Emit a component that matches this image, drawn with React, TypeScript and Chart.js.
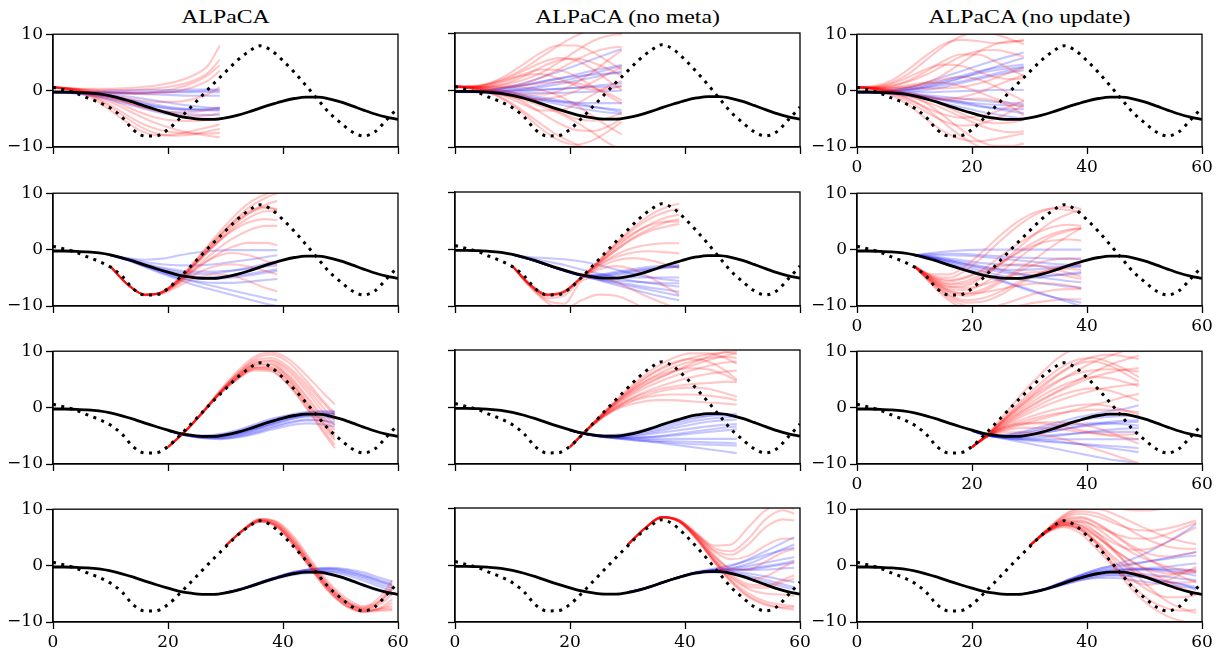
import React, { useEffect, useRef } from "react";
import { Chart, registerables } from "chart.js";
Chart.register(...registerables);

// ---------- data ----------
const X_GRID = [0, 2, 4, 6, 8, 10, 12, 14, 16, 18, 20, 22, 24, 26, 28, 30, 32, 34, 36, 38, 40, 42, 44, 46, 48, 50, 52, 54, 56, 58, 60];
const TRUE_SOLID = [-0.25, -0.25, -0.3, -0.4, -0.6, -0.95, -1.45, -2.05, -2.75, -3.4, -4.0, -4.55, -4.9, -5.1, -5.1, -4.85, -4.4, -3.8, -3.1, -2.45, -1.85, -1.4, -1.15, -1.15, -1.45, -2.0, -2.7, -3.45, -4.15, -4.7, -5.1];
const TRUE_DOTTED = [0.6, 0.1, -0.45, -1.3, -2.1, -3.1, -4.7, -7.0, -8.05, -8.0, -6.9, -5.0, -2.9, -0.8, 1.3, 3.3, 5.3, 6.9, 7.95, 7.1, 5.3, 3.2, 0.9, -1.5, -3.9, -5.7, -7.3, -8.05, -7.3, -5.2, -3.0];
const X_TICKS = [0, 20, 40, 60];
const Y_TICKS = [-10, 0, 10];
const TITLES = ["ALPaCA", "ALPaCA (no meta)", "ALPaCA (no update)"];
const ROW_STARTS = [0, 10, 20, 30];
const SAMPLE_OFFSETS = [0, 3, 6, 9, 12, 15, 18, 21, 24, 27, 29];

// Row 1
const RED_A1 = [
  [0.6, 0.4, 0.3, 0.3, 0.4, 0.6, 0.9, 1.5, 2.5, 4.5, 8.0],
  [0.6, 0.4, 0.2, 0.1, 0.1, 0.2, 0.4, 0.8, 1.6, 3.2, 5.5],
  [0.6, 0.3, 0.0, -0.3, -0.5, -0.6, -0.5, -0.2, 0.5, 1.8, 3.5],
  [0.6, 0.3, -0.1, -0.6, -1.2, -1.7, -2.0, -2.0, -1.6, -0.6, 0.6],
  [0.6, 0.2, -0.4, -1.3, -2.5, -3.8, -4.8, -5.3, -5.4, -5.2, -4.8],
  [0.6, 0.2, -0.6, -2.0, -3.8, -5.6, -6.8, -7.4, -7.6, -7.6, -7.5],
  [0.6, 0.1, -0.9, -2.8, -5.0, -7.0, -7.9, -7.8, -7.2, -6.5, -6.0],
  [0.6, 0.2, -0.5, -1.6, -3.0, -4.5, -5.8, -6.8, -7.5, -8.0, -8.3],
  [0.6, 0.3, -0.2, -0.9, -1.8, -2.7, -3.4, -3.8, -3.8, -3.4, -3.0],
  [0.6, 0.2, -0.7, -2.3, -4.3, -6.3, -7.6, -8.0, -7.8, -7.2, -6.8],
  [0.6, 0.4, 0.1, -0.2, -0.4, -0.4, -0.2, 0.3, 1.2, 2.8, 4.5],
  [0.6, 0.3, -0.3, -1.0, -1.9, -2.8, -3.6, -4.2, -4.5, -4.4, -4.0],
];
const BLUE_A1 = [
  [-0.3, -0.3, -0.3, -0.3, -0.3, -0.3, -0.3, -0.3, -0.3, -0.3, -0.3],
  [-0.3, -0.3, -0.2, -0.1, 0, 0.1, 0.1, 0.1, 0.2, 0.2, 0.2],
  [-0.3, -0.35, -0.5, -0.8, -1.3, -1.9, -2.5, -3.0, -3.3, -3.4, -3.4],
  [-0.3, -0.35, -0.6, -1.0, -1.6, -2.3, -2.9, -3.3, -3.5, -3.5, -3.5],
  [-0.3, -0.4, -0.7, -1.2, -1.9, -2.7, -3.4, -3.9, -4.2, -4.3, -4.3],
  [-0.3, -0.3, -0.4, -0.6, -0.9, -1.3, -1.8, -2.3, -2.7, -3.0, -3.1],
  [-0.3, -0.3, -0.3, -0.4, -0.5, -0.6, -0.7, -0.8, -0.9, -0.9, -0.9],
  [-0.3, -0.4, -0.8, -1.4, -2.2, -3.0, -3.8, -4.4, -4.8, -5.0, -5.0],
  [-0.3, -0.3, -0.3, -0.35, -0.4, -0.4, -0.3, -0.2, -0.1, 0, 0],
  [-0.3, -0.35, -0.5, -0.9, -1.4, -2.1, -2.8, -3.2, -3.3, -3.2, -3.1],
];
const RED_M1 = [
  [0.6, 0.7, 1.2, 2.2, 3.8, 5.8, 7.8, 9.5, 10.5, 10.5, 10],
  [0.6, 0.5, 0.6, 1.2, 2.4, 4.0, 5.2, 5.5, 4.8, 3.5, 2.5],
  [0.6, 0.3, -0.3, -1.0, -1.8, -2.8, -4.0, -5.6, -7.5, -9.5, -10.5],
  [0.6, 0.4, 0.0, -0.8, -2.2, -4.0, -5.8, -7.0, -7.2, -6.2, -5.0],
  [0.6, 0.5, 0.8, 1.6, 2.8, 3.6, 3.5, 2.4, 0.6, -1.2, -2.4],
  [0.6, 0.3, -0.4, -1.8, -3.8, -6.0, -8.0, -9.5, -10.5, -11, -11],
  [0.6, 0.6, 1.0, 1.8, 2.6, 2.8, 2.0, 0.8, 0.0, 0.2, 0.8],
  [0.6, 0.4, 0.1, -0.4, -0.8, -0.8, -0.2, 1.2, 3.2, 5.5, 7.0],
  [0.6, 0.5, 0.6, 1.0, 1.8, 3.0, 4.8, 6.8, 8.6, 9.6, 9.8],
  [0.6, 0.3, -0.2, -1.2, -2.6, -3.6, -3.6, -2.5, -0.8, 0.8, 1.6],
  [0.6, 0.4, 0.2, -0.2, -1.0, -2.2, -3.8, -5.0, -5.4, -4.8, -4.0],
  [0.6, 0.6, 1.2, 2.6, 4.6, 6.6, 7.8, 7.8, 6.6, 4.8, 3.6],
  [0.6, 0.3, -0.5, -2.0, -4.2, -6.8, -8.8, -9.6, -8.8, -7.0, -5.6],
  [0.6, 0.5, 0.5, 0.6, 0.8, 1.2, 1.4, 1.2, 0.4, -0.8, -1.8],
  [0.6, 0.5, 0.4, 0.6, 1.2, 2.2, 3.6, 5.2, 6.6, 7.4, 7.6],
  [0.6, 0.3, -0.2, -0.8, -1.4, -1.6, -1.2, -0.2, 1.4, 3.0, 4.0],
  [0.6, 0.4, 0.3, 0.4, 0.4, 0.0, -1.0, -2.6, -4.6, -6.6, -7.8],
  [0.6, 0.6, 1.0, 2.0, 3.4, 4.8, 5.6, 5.2, 3.6, 1.4, 0.0],
];
const BLUE_M1 = [
  [-0.3, -0.2, 0, 0.5, 1.2, 2.2, 3.2, 4.3, 5.4, 6.5, 7.2],
  [-0.3, -0.2, 0, 0.3, 0.8, 1.4, 2.0, 2.7, 3.4, 4.0, 4.4],
  [-0.3, -0.3, -0.3, -0.2, 0.1, 0.5, 1.0, 1.6, 2.2, 2.9, 3.3],
  [-0.3, -0.3, -0.4, -0.6, -0.9, -1.3, -1.8, -2.3, -2.9, -3.5, -3.9],
  [-0.3, -0.3, -0.4, -0.7, -1.1, -1.6, -2.1, -2.6, -3.0, -3.3, -3.5],
  [-0.3, -0.3, -0.3, -0.3, -0.2, 0, 0.2, 0.4, 0.5, 0.6, 0.6],
  [-0.3, -0.3, -0.3, -0.4, -0.5, -0.5, -0.5, -0.4, -0.3, -0.2, -0.1],
  [-0.3, -0.2, 0, 0.4, 0.9, 1.5, 2.0, 2.4, 2.7, 2.9, 3.0],
  [-0.3, -0.4, -0.6, -0.9, -1.3, -1.7, -2.0, -2.2, -2.3, -2.3, -2.3],
  [-0.3, -0.3, -0.2, 0, 0.3, 0.8, 1.4, 2.1, 2.9, 3.7, 4.2],
  [-0.3, -0.3, -0.5, -0.8, -1.3, -1.9, -2.5, -3.1, -3.6, -4.0, -4.2],
  [-0.3, -0.3, -0.2, -0.1, 0, 0.1, 0.2, 0.4, 0.7, 1.0, 1.2],
];
const RED_U1 = [
  [0.6, 0.8, 1.8, 3.8, 6.2, 8.2, 9.0, 8.8, 8.4, 8.6, 9.0],
  [0.6, 0.4, 0.0, -0.8, -2.2, -4.4, -6.8, -8.8, -9.8, -9.8, -9.4],
  [0.6, 0.6, 0.9, 1.6, 2.8, 4.4, 6.0, 7.0, 7.2, 6.6, 6.0],
  [0.6, 0.3, -0.4, -1.6, -3.0, -4.2, -4.8, -4.6, -3.8, -2.6, -1.8],
  [0.6, 0.5, 0.6, 1.0, 1.4, 1.4, 0.8, -0.2, -1.4, -2.4, -3.0],
  [0.6, 0.2, -0.8, -2.6, -5.0, -7.2, -8.6, -9.0, -8.6, -8.0, -7.6],
  [0.6, 0.6, 1.2, 2.4, 3.8, 4.6, 4.4, 3.4, 2.4, 2.0, 2.2],
  [0.6, 0.4, 0.1, -0.4, -1.0, -1.4, -1.2, -0.4, 0.8, 2.0, 2.8],
  [0.6, 0.3, -0.3, -1.4, -3.2, -5.6, -8.0, -9.8, -10.5, -10.5, -10],
  [0.6, 0.5, 0.5, 0.7, 1.4, 2.8, 4.8, 6.8, 8.2, 8.8, 8.8],
  [0.6, 0.4, 0.0, -0.6, -1.2, -1.6, -1.6, -1.4, -1.8, -3.0, -4.4],
  [0.6, 0.7, 1.4, 3.0, 5.4, 7.8, 9.6, 10.4, 10.0, 9.0, 8.2],
  [0.6, 0.3, -0.2, -1.0, -2.0, -3.2, -4.6, -6.0, -7.0, -7.4, -7.2],
  [0.6, 0.5, 0.4, 0.4, 0.4, 0.4, 0.6, 1.2, 2.2, 3.4, 4.0],
  [0.6, 0.5, 0.8, 1.8, 3.4, 5.2, 6.4, 6.4, 5.2, 3.6, 2.6],
  [0.6, 0.3, -0.6, -2.0, -3.8, -5.4, -6.2, -6.0, -5.0, -3.6, -2.6],
  [0.6, 0.4, 0.3, 0.6, 1.2, 2.0, 2.4, 2.0, 0.8, -0.8, -1.8],
  [0.6, 0.3, -0.1, -0.6, -1.4, -2.6, -4.0, -5.2, -5.8, -5.6, -5.2],
];
const BLUE_U1 = [
  [-0.3, -0.2, 0.1, 0.6, 1.4, 2.4, 3.4, 4.4, 5.4, 6.2, 6.8],
  [-0.3, -0.2, 0, 0.4, 1.0, 1.8, 2.6, 3.4, 4.0, 4.4, 4.6],
  [-0.3, -0.3, -0.1, 0.2, 0.8, 1.5, 2.3, 3.0, 3.6, 4.0, 4.2],
  [-0.3, -0.3, -0.4, -0.6, -1.0, -1.5, -2.0, -2.6, -3.2, -3.7, -4.0],
  [-0.3, -0.4, -0.6, -1.0, -1.5, -2.2, -2.9, -3.6, -4.2, -4.7, -5.0],
  [-0.3, -0.3, -0.3, -0.2, 0.1, 0.6, 1.3, 2.0, 2.7, 3.3, 3.6],
  [-0.3, -0.3, -0.3, -0.3, -0.3, -0.2, -0.1, 0, 0.1, 0.1, 0.1],
  [-0.3, -0.3, -0.4, -0.5, -0.8, -1.1, -1.4, -1.7, -2.0, -2.2, -2.3],
  [-0.3, -0.2, -0.1, 0.1, 0.5, 1.0, 1.6, 2.3, 3.0, 3.7, 4.1],
  [-0.3, -0.4, -0.5, -0.8, -1.2, -1.7, -2.3, -2.8, -3.1, -3.3, -3.3],
  [-0.3, -0.3, -0.2, 0.1, 0.6, 1.3, 2.2, 3.2, 4.2, 5.2, 5.8],
  [-0.3, -0.3, -0.4, -0.7, -1.1, -1.6, -2.0, -2.3, -2.5, -2.6, -2.6],
];

// Row 2
const RED_A2 = [
  [-3.0, -6.2, -8.0, -7.5, -5.2, -2.0, 1.4, 4.6, 7.4, 9.2, 10.0],
  [-3.0, -6.2, -8.0, -7.6, -5.5, -2.4, 0.8, 3.8, 6.4, 8.0, 8.6],
  [-3.0, -6.2, -8.0, -7.5, -5.2, -2.2, 0.8, 3.2, 4.8, 5.4, 5.2],
  [-3.0, -6.2, -8.0, -7.6, -5.8, -3.4, -1.2, 0.4, 1.2, 1.2, 0.8],
  [-3.0, -6.2, -8.0, -7.7, -6.0, -4.2, -3.0, -2.6, -3.0, -3.8, -4.4],
  [-3.0, -6.2, -8.0, -7.5, -5.0, -1.6, 2.0, 5.4, 8.2, 9.8, 10.4],
  [-3.0, -6.2, -8.1, -7.8, -6.4, -5.0, -4.4, -4.6, -5.6, -6.8, -7.4],
  [-3.0, -6.2, -8.0, -7.5, -5.3, -2.2, 1.2, 4.2, 6.4, 7.4, 7.2],
  [-3.0, -6.2, -8.0, -7.6, -5.6, -3.0, -0.4, 1.8, 3.4, 4.2, 4.2],
  [-3.0, -6.2, -8.0, -7.5, -5.1, -1.8, 1.6, 4.6, 6.8, 7.6, 7.0],
  [-3.0, -6.2, -8.0, -7.6, -5.6, -3.2, -1.4, -0.6, -1.0, -2.0, -2.6],
  [-3.0, -6.2, -8.0, -7.5, -5.3, -2.4, 0.6, 3.4, 5.6, 6.8, 6.8],
];
const BLUE_A2 = [
  [-1.0, -1.8, -2.8, -3.8, -4.6, -5.0, -5.0, -4.6, -3.8, -2.9, -2.3],
  [-1.0, -1.7, -2.6, -3.4, -4.0, -4.3, -4.2, -3.8, -3.2, -2.5, -2.0],
  [-1.0, -1.5, -1.8, -1.6, -1.0, -0.5, -0.2, -0.1, -0.1, -0.1, -0.1],
  [-1.0, -1.9, -3.0, -4.1, -5.0, -5.6, -5.9, -5.9, -5.7, -5.4, -5.2],
  [-1.0, -1.8, -2.9, -4.0, -5.0, -5.8, -6.5, -7.2, -7.9, -8.6, -9.0],
  [-1.0, -1.7, -2.5, -3.2, -3.7, -3.9, -3.9, -3.7, -3.4, -3.0, -2.8],
  [-1.0, -1.8, -2.8, -3.8, -4.6, -5.1, -5.2, -5.0, -4.6, -4.1, -3.8],
  [-1.0, -1.6, -2.2, -2.6, -2.8, -2.8, -2.6, -2.2, -1.8, -1.3, -1.0],
  [-1.0, -1.9, -3.1, -4.3, -5.4, -6.4, -7.2, -8.0, -8.8, -9.6, -10],
  [-1.0, -1.8, -2.7, -3.6, -4.3, -4.8, -4.9, -4.7, -4.3, -3.8, -3.5],
];
const RED_M2 = [
  [-3.0, -6.2, -8.0, -7.4, -5.0, -2.2, 0.8, 3.4, 5.4, 6.6, 7.0],
  [-3.0, -6.2, -8.0, -7.5, -5.0, -2.6, -0.2, 1.8, 3.2, 4.0, 4.4],
  [-3.0, -6.3, -8.2, -7.6, -5.0, -2.8, -1.0, 0.2, 0.8, 1.0, 1.0],
  [-3.0, -6.4, -8.6, -8.2, -5.2, -3.6, -3.0, -3.6, -5.0, -6.8, -8.0],
  [-3.0, -6.2, -8.0, -7.5, -5.0, -2.4, 0.2, 2.6, 4.4, 5.6, 6.0],
  [-3.0, -6.5, -9.0, -9.6, -5.6, -5.0, -5.8, -7.2, -8.6, -9.8, -10.5],
  [-3.0, -6.2, -8.0, -7.4, -4.9, -2.0, 1.0, 3.8, 6.0, 7.4, 8.0],
  [-3.0, -6.2, -8.1, -7.6, -5.0, -2.9, -1.4, -0.6, -0.4, -0.6, -0.8],
  [-3.0, -6.2, -8.0, -7.5, -5.0, -2.5, -0.2, 2.0, 3.6, 4.8, 5.2],
  [-3.0, -6.6, -9.4, -10.5, -9.0, -8.0, -8.2, -9.4, -11, -12, -12],
  [-3.0, -6.2, -8.0, -7.4, -5.0, -2.2, 0.6, 2.8, 4.2, 4.8, 4.8],
  [-3.0, -6.2, -8.1, -7.6, -5.1, -3.2, -2.0, -1.6, -2.0, -2.8, -3.4],
];
const BLUE_M2 = [
  [-1.0, -1.8, -2.8, -3.8, -4.6, -4.6, -4.2, -3.8, -3.4, -3.1, -3.0],
  [-1.0, -1.8, -2.8, -3.8, -4.6, -4.8, -4.6, -4.2, -3.7, -3.3, -3.1],
  [-1.0, -1.8, -2.8, -3.8, -4.6, -4.5, -4.0, -3.5, -3.1, -2.9, -2.8],
  [-1.0, -1.8, -2.8, -3.8, -4.7, -5.3, -5.8, -6.3, -6.8, -7.2, -7.5],
  [-1.0, -1.8, -2.8, -3.8, -4.7, -5.5, -6.3, -7.1, -7.9, -8.6, -9.0],
  [-1.0, -1.8, -2.8, -3.8, -4.7, -5.2, -5.5, -5.7, -5.9, -6.0, -6.0],
  [-1.0, -1.6, -2.2, -2.8, -3.6, -4.3, -5.0, -5.6, -6.0, -6.4, -6.6],
  [-1.0, -1.8, -2.8, -3.8, -4.6, -4.9, -5.0, -5.0, -5.0, -5.0, -5.0],
  [-1.0, -1.8, -2.8, -3.8, -4.7, -5.4, -6.0, -6.6, -7.2, -7.8, -8.2],
  [-1.0, -1.8, -2.8, -3.8, -4.6, -4.7, -4.4, -3.9, -3.5, -3.2, -3.1],
  [-1.0, -1.4, -1.6, -1.8, -2.2, -2.8, -3.6, -4.4, -5.0, -5.4, -5.6],
];
const RED_U2 = [
  [-3.0, -4.6, -5.0, -3.6, -1.2, 1.6, 4.2, 6.2, 7.4, 7.6, 7.2],
  [-3.0, -5.2, -6.6, -6.4, -4.8, -2.6, -0.4, 1.4, 2.8, 3.6, 3.8],
  [-3.0, -5.6, -7.6, -8.2, -7.4, -5.8, -4.0, -2.6, -1.8, -1.6, -1.8],
  [-3.0, -6.0, -8.6, -10, -10.4, -9.8, -8.8, -7.8, -7.2, -7.0, -7.0],
  [-3.0, -4.8, -5.6, -5.0, -3.4, -1.2, 1.0, 2.8, 4.0, 4.4, 4.2],
  [-3.0, -5.8, -8.0, -9.0, -8.6, -7.4, -5.8, -4.4, -3.6, -3.4, -3.6],
  [-3.0, -5.4, -7.0, -7.2, -6.0, -4.0, -1.6, 0.6, 2.4, 3.4, 3.8],
  [-3.0, -6.2, -9.0, -10.6, -11, -10.6, -10, -9.4, -9.0, -8.8, -8.8],
  [-3.0, -5.0, -6.0, -5.6, -4.2, -2.4, -0.6, 0.8, 1.6, 1.8, 1.6],
  [-3.0, -5.6, -7.4, -7.8, -7.0, -5.4, -3.6, -1.6, 0.6, 2.6, 3.8],
  [-3.0, -5.2, -6.6, -6.8, -6.2, -5.2, -4.4, -4.0, -4.2, -4.8, -5.2],
  [-3.0, -4.4, -4.4, -2.8, -0.2, 2.6, 5.0, 6.6, 7.2, 7.0, 6.6],
  [-3.0, -5.0, -6.2, -6.0, -4.6, -2.4, 0.2, 2.8, 5.0, 6.4, 7.0],
  [-3.0, -5.8, -8.2, -9.4, -9.2, -8.0, -6.2, -4.6, -3.4, -2.8, -2.6],
  [-3.0, -4.8, -5.4, -4.8, -3.8, -3.0, -2.6, -2.8, -3.4, -4.2, -4.8],
  [-3.0, -5.4, -7.2, -7.8, -7.6, -7.0, -6.4, -6.0, -6.0, -6.4, -6.8],
];
const BLUE_U2 = [
  [-1.0, -0.6, -0.3, -0.1, 0, 0, 0, 0, 0, 0, 0],
  [-1.0, -1.2, -1.6, -2.0, -2.4, -2.6, -2.8, -2.9, -3.0, -3.0, -3.0],
  [-1.0, -1.4, -2.0, -2.6, -3.2, -3.5, -3.6, -3.5, -3.3, -3.1, -3.0],
  [-1.0, -1.6, -2.4, -3.4, -4.4, -5.4, -6.4, -7.4, -8.4, -9.4, -10],
  [-1.0, -1.5, -2.2, -3.0, -3.9, -4.6, -5.2, -5.8, -6.2, -6.6, -6.8],
  [-1.0, -1.0, -1.0, -1.1, -1.3, -1.6, -1.9, -2.2, -2.5, -2.7, -2.8],
  [-1.0, -1.8, -2.8, -3.8, -4.6, -5.0, -5.2, -5.0, -4.6, -4.2, -4.0],
  [-1.0, -1.3, -1.8, -2.4, -3.0, -3.6, -4.2, -4.8, -5.2, -5.6, -5.8],
  [-1.0, -0.8, -0.7, -0.8, -1.0, -1.2, -1.4, -1.5, -1.6, -1.6, -1.6],
  [-1.0, -1.6, -2.6, -3.6, -4.6, -5.6, -6.6, -7.6, -8.4, -9.0, -9.4],
  [-1.0, -1.4, -2.0, -2.7, -3.4, -4.0, -4.4, -4.6, -4.6, -4.4, -4.2],
];

// Row 3
const RED_A3 = [
  [-7.0, -4.2, -0.9, 2.5, 5.3, 7.5, 7.6, 5.2, 1.0, -2.8, -5.0],
  [-7.0, -4.2, -0.8, 2.8, 5.9, 8.3, 8.8, 7.2, 4.2, 0.8, -1.4],
  [-7.0, -4.2, -0.9, 2.6, 5.4, 7.2, 7.0, 4.6, 0.6, -3.4, -5.8],
  [-7.0, -4.2, -0.8, 3.0, 6.4, 9.0, 9.8, 8.6, 5.8, 2.6, 0.6],
  [-7.0, -4.2, -0.9, 2.4, 5.0, 6.6, 6.4, 4.0, 0.2, -4.0, -6.6],
  [-7.0, -4.2, -0.9, 2.6, 5.6, 7.8, 8.2, 6.4, 3.0, -0.8, -3.2],
  [-7.0, -4.2, -0.9, 2.4, 5.0, 6.8, 6.8, 4.8, 1.2, -2.8, -5.4],
  [-7.0, -4.2, -0.8, 2.8, 6.0, 8.6, 9.4, 8.0, 4.8, 1.2, -1.0],
  [-7.0, -4.2, -0.9, 2.5, 5.2, 7.0, 6.6, 4.0, 0.0, -4.4, -7.2],
  [-7.0, -4.2, -0.9, 2.6, 5.5, 7.6, 7.8, 5.8, 2.2, -1.6, -4.0],
  [-7.0, -4.2, -0.8, 2.7, 5.8, 8.0, 8.4, 6.8, 3.6, 0.0, -2.4],
  [-7.0, -4.2, -0.9, 2.5, 5.1, 7.0, 7.2, 5.4, 1.8, -2.2, -4.6],
];
const BLUE_A3 = [
  [-4.1, -4.8, -5.1, -4.95, -4.4, -3.5, -2.5, -1.7, -1.2, -1.3, -1.7],
  [-4.1, -4.9, -5.3, -5.3, -4.9, -4.1, -3.1, -2.2, -1.5, -1.2, -1.2],
  [-4.1, -4.8, -5.0, -4.7, -4.0, -3.0, -2.0, -1.3, -0.8, -0.6, -0.6],
  [-4.1, -4.9, -5.4, -5.5, -5.2, -4.5, -3.6, -2.8, -2.3, -2.3, -2.6],
  [-4.1, -4.8, -5.1, -5.0, -4.6, -3.8, -2.8, -1.9, -1.3, -1.1, -1.2],
  [-4.1, -4.9, -5.3, -5.4, -5.0, -4.3, -3.4, -2.6, -2.1, -2.3, -3.0],
  [-4.1, -4.8, -5.0, -4.8, -4.2, -3.2, -2.2, -1.4, -0.9, -0.8, -1.0],
  [-4.1, -4.9, -5.2, -5.2, -4.7, -3.9, -3.0, -2.1, -1.6, -1.7, -2.0],
  [-4.1, -4.8, -5.2, -5.1, -4.6, -3.7, -2.7, -1.8, -1.2, -1.0, -0.8],
  [-4.1, -4.9, -5.4, -5.6, -5.3, -4.7, -3.9, -3.2, -2.8, -3.0, -3.4],
];
const RED_M3 = [
  [-7.0, -4.0, -1.6, 0.2, 1.4, 2.0, 2.2, 2.2, 2.0, 1.6, 1.2],
  [-7.0, -4.0, -1.2, 1.0, 2.8, 4.2, 5.4, 6.4, 7.2, 7.8, 8.0],
  [-7.0, -3.9, -1.0, 1.6, 3.8, 5.6, 7.0, 8.0, 8.6, 8.8, 8.6],
  [-7.0, -4.0, -1.4, 0.6, 2.2, 3.4, 4.4, 5.2, 5.8, 6.2, 6.4],
  [-7.0, -3.9, -0.8, 2.2, 4.8, 7.0, 8.6, 9.4, 9.4, 8.6, 7.6],
  [-7.0, -4.0, -1.6, 0.0, 0.8, 1.2, 1.2, 1.0, 0.8, 0.6, 0.4],
  [-7.0, -3.9, -1.0, 1.6, 3.8, 5.4, 6.4, 6.8, 6.6, 5.6, 4.6],
  [-7.0, -4.0, -1.2, 1.2, 3.2, 4.8, 6.2, 7.6, 8.8, 9.6, 9.8],
  [-7.0, -3.9, -0.9, 1.9, 4.4, 6.4, 7.8, 8.4, 8.0, 6.4, 4.8],
  [-7.0, -4.0, -1.4, 0.6, 2.0, 3.0, 3.6, 4.0, 4.2, 4.4, 4.4],
  [-7.0, -3.9, -1.1, 1.4, 3.4, 5.0, 6.2, 7.2, 8.2, 9.0, 9.4],
  [-7.0, -4.0, -1.5, 0.4, 1.6, 2.6, 3.2, 3.4, 3.2, 2.4, 1.8],
  [-7.0, -3.9, -0.9, 1.8, 4.2, 6.2, 7.6, 8.6, 9.2, 9.6, 9.4],
];
const BLUE_M3 = [
  [-4.1, -4.8, -5.0, -4.8, -4.2, -3.4, -2.6, -1.9, -1.5, -1.4, -1.5],
  [-4.1, -4.8, -5.2, -5.3, -5.3, -5.2, -5.0, -4.7, -4.4, -4.1, -3.9],
  [-4.1, -4.8, -5.3, -5.6, -5.9, -6.2, -6.6, -7.0, -7.4, -7.8, -8.1],
  [-4.1, -4.8, -5.1, -5.1, -4.8, -4.3, -3.7, -3.1, -2.6, -2.3, -2.2],
  [-4.1, -4.8, -5.2, -5.4, -5.5, -5.6, -5.6, -5.6, -5.6, -5.6, -5.6],
  [-4.1, -4.8, -5.3, -5.6, -5.9, -6.1, -6.3, -6.5, -6.6, -6.7, -6.8],
  [-4.1, -4.8, -5.0, -4.9, -4.4, -3.7, -2.9, -2.2, -1.6, -1.3, -1.2],
  [-4.1, -4.8, -5.1, -5.2, -5.0, -4.6, -4.2, -3.8, -3.4, -3.1, -3.0],
  [-4.1, -4.8, -5.2, -5.4, -5.4, -5.2, -4.8, -4.4, -4.0, -3.6, -3.4],
  [-4.1, -4.8, -5.3, -5.5, -5.7, -5.9, -6.0, -6.1, -6.2, -6.3, -6.4],
  [-4.1, -4.8, -5.1, -5.0, -4.6, -4.0, -3.3, -2.6, -2.1, -1.8, -1.7],
];
const RED_U3 = [
  [-7.0, -4.4, -0.8, 2.8, 6.0, 8.8, 10.5, 11, 10.5, 10, 10],
  [-7.0, -4.6, -1.8, 0.8, 3.0, 4.8, 6.0, 6.6, 6.8, 6.6, 6.4],
  [-7.0, -4.8, -3.0, -1.4, 0.0, 1.2, 2.2, 3.0, 3.6, 4.0, 4.2],
  [-7.0, -5.0, -4.4, -4.4, -4.8, -5.4, -6.2, -7.2, -8.2, -9.2, -9.8],
  [-7.0, -4.6, -2.0, 0.4, 2.6, 4.6, 6.4, 8.0, 9.2, 10.2, 10.6],
  [-7.0, -4.8, -3.4, -2.4, -1.6, -1.0, -0.6, -0.4, -0.4, -0.6, -0.8],
  [-7.0, -4.5, -1.4, 1.6, 4.4, 6.8, 8.4, 8.8, 8.0, 6.6, 5.4],
  [-7.0, -4.9, -4.0, -3.6, -3.6, -3.8, -4.2, -4.6, -5.0, -5.4, -5.6],
  [-7.0, -4.7, -2.6, -0.6, 1.2, 2.8, 4.2, 5.4, 6.2, 6.8, 7.0],
  [-7.0, -4.8, -3.2, -2.0, -1.0, -0.2, 0.4, 0.6, 0.2, -0.6, -1.2],
  [-7.0, -4.6, -2.2, 0.0, 2.0, 3.6, 4.8, 5.4, 5.2, 4.4, 3.8],
  [-7.0, -4.5, -1.6, 1.2, 3.8, 6.0, 7.8, 9.0, 9.4, 9.0, 8.6],
  [-7.0, -4.9, -3.8, -3.0, -2.6, -2.6, -2.8, -3.4, -4.4, -5.6, -6.4],
  [-7.0, -4.7, -2.8, -1.0, 0.6, 2.0, 3.0, 3.4, 3.0, 2.0, 1.2],
  [-7.0, -4.6, -2.4, -0.4, 1.4, 3.0, 4.6, 6.2, 7.6, 8.6, 9.2],
  [-7.0, -4.9, -3.6, -2.8, -2.0, -1.2, -0.4, 0.4, 1.2, 2.0, 2.4],
  [-7.0, -4.8, -3.4, -2.8, -2.8, -3.2, -3.8, -4.4, -4.8, -4.8, -4.6],
  [-7.0, -4.5, -1.8, 0.8, 3.4, 5.8, 7.6, 8.2, 7.4, 5.8, 4.6],
];
const BLUE_U3 = [
  [-4.1, -5.0, -4.8, -4.2, -3.4, -2.6, -1.8, -1.2, -0.6, -0.1, 0.4],
  [-4.1, -5.0, -5.2, -5.0, -4.6, -4.0, -3.4, -2.9, -2.5, -2.3, -2.2],
  [-4.1, -5.0, -5.4, -5.6, -5.8, -6.0, -6.4, -6.8, -7.2, -7.6, -7.9],
  [-4.1, -5.0, -5.0, -4.6, -4.0, -3.4, -3.0, -2.8, -2.8, -3.0, -3.2],
  [-4.1, -5.0, -5.6, -6.2, -6.8, -7.4, -8.0, -8.6, -9.2, -9.6, -10],
  [-4.1, -5.0, -5.2, -5.2, -5.0, -4.8, -4.6, -4.4, -4.3, -4.3, -4.3],
  [-4.1, -5.0, -4.9, -4.4, -3.8, -3.0, -2.4, -1.9, -1.6, -1.5, -1.5],
  [-4.1, -5.0, -5.4, -5.6, -5.6, -5.6, -5.6, -5.6, -5.6, -5.6, -5.6],
  [-4.1, -5.0, -5.1, -4.9, -4.5, -4.0, -3.5, -3.1, -2.8, -2.6, -2.5],
  [-4.1, -5.0, -5.5, -5.8, -6.0, -6.2, -6.4, -6.6, -6.8, -7.0, -7.2],
  [-4.1, -5.0, -5.3, -5.4, -5.3, -5.0, -4.6, -4.2, -3.9, -3.7, -3.6],
];

// Row 4
const RED_A4 = [
  [3.5, 6.2, 7.9, 7.0, 3.8, -0.3, -4.0, -6.6, -7.9, -6.4, -4.2],
  [3.5, 6.3, 8.2, 7.6, 4.6, 0.4, -3.4, -6.2, -7.6, -6.8, -5.0],
  [3.5, 6.2, 7.8, 6.8, 3.4, -0.8, -4.6, -7.2, -8.2, -7.6, -6.6],
  [3.5, 6.3, 8.1, 7.3, 4.2, 0.0, -3.8, -6.4, -7.4, -5.4, -2.6],
  [3.5, 6.2, 7.9, 7.0, 3.8, -0.4, -4.2, -6.9, -8.0, -7.8, -7.6],
  [3.5, 6.3, 8.3, 7.8, 5.0, 0.8, -3.0, -5.8, -7.2, -6.2, -4.0],
  [3.5, 6.2, 7.8, 6.8, 3.4, -0.8, -4.6, -7.2, -8.2, -8.0, -7.9],
  [3.5, 6.2, 8.0, 7.2, 4.0, -0.2, -4.0, -6.6, -7.6, -6.0, -3.4],
  [3.5, 6.2, 7.9, 7.0, 3.6, -0.6, -4.4, -7.0, -8.1, -7.4, -6.0],
  [3.5, 6.3, 8.2, 7.5, 4.4, 0.2, -3.6, -6.4, -7.8, -7.6, -7.2],
];
const BLUE_A4 = [
  [-4.8, -4.1, -3.15, -2.2, -1.45, -1.15, -1.5, -2.35, -3.5, -4.5, -4.95],
  [-4.8, -4.0, -3.0, -2.0, -1.2, -0.8, -0.8, -1.2, -2.0, -3.0, -3.6],
  [-4.8, -4.0, -3.0, -2.0, -1.1, -0.6, -0.5, -0.8, -1.6, -2.6, -3.2],
  [-4.8, -4.1, -3.1, -2.1, -1.3, -1.0, -1.1, -1.7, -2.7, -3.8, -4.5],
  [-4.8, -4.1, -3.2, -2.3, -1.6, -1.3, -1.6, -2.4, -3.6, -4.6, -5.2],
  [-4.8, -4.0, -3.0, -2.0, -1.2, -0.7, -0.6, -1.0, -1.8, -2.8, -3.4],
  [-4.8, -4.1, -3.1, -2.1, -1.3, -0.9, -1.0, -1.4, -2.3, -3.4, -4.0],
  [-4.8, -4.0, -3.0, -2.0, -1.1, -0.6, -0.4, -0.6, -1.2, -2.2, -2.8],
];
const RED_M4 = [
  [3.5, 6.4, 8.4, 7.6, 4.6, 0.6, -3.0, -5.6, -7.0, -7.4, -7.4],
  [3.5, 6.4, 8.4, 7.8, 5.2, 1.8, -1.0, -2.4, -2.0, -0.4, 0.6],
  [3.5, 6.4, 8.4, 7.8, 5.4, 3.0, 2.4, 4.6, 8.0, 9.6, 9.0],
  [3.5, 6.4, 8.4, 7.6, 4.8, 1.0, -2.2, -4.2, -5.0, -5.2, -5.4],
  [3.5, 6.4, 8.4, 7.8, 5.2, 2.4, 1.0, 1.6, 3.4, 4.6, 4.6],
  [3.5, 6.4, 8.4, 7.7, 5.0, 1.4, -1.6, -3.4, -3.6, -2.6, -1.8],
  [3.5, 6.4, 8.4, 7.9, 5.6, 3.4, 3.6, 6.6, 9.6, 10.4, 9.8],
  [3.5, 6.4, 8.4, 7.6, 4.6, 0.8, -2.6, -5.0, -6.4, -7.0, -7.2],
  [3.5, 6.4, 8.4, 7.7, 5.0, 1.6, -0.6, -0.8, 0.6, 2.2, 2.8],
  [3.5, 6.4, 8.4, 7.6, 4.7, 1.0, -2.0, -3.8, -4.0, -3.0, -2.4],
  [3.5, 6.4, 8.4, 7.8, 5.4, 2.6, 1.8, 3.6, 6.6, 8.0, 7.8],
  [3.5, 6.4, 8.4, 7.6, 4.6, 0.7, -2.8, -5.4, -6.8, -7.6, -7.8],
];
const BLUE_M4 = [
  [-4.8, -4.1, -3.1, -2.1, -1.3, -0.9, -0.6, 0.2, 1.4, 2.8, 3.6],
  [-4.8, -4.1, -3.1, -2.1, -1.3, -0.8, -0.2, 1.0, 2.4, 3.9, 4.9],
  [-4.8, -4.1, -3.1, -2.1, -1.3, -1.0, -1.0, -0.8, -0.4, 0.1, 0.4],
  [-4.8, -4.1, -3.1, -2.1, -1.4, -1.2, -1.4, -1.9, -2.6, -3.4, -3.9],
  [-4.8, -4.1, -3.1, -2.1, -1.3, -0.9, -0.6, -0.2, 0.4, 1.0, 1.4],
  [-4.8, -4.1, -3.1, -2.2, -1.5, -1.3, -1.6, -2.2, -3.0, -3.8, -4.3],
  [-4.8, -4.1, -3.1, -2.1, -1.3, -0.9, -0.8, -0.6, -0.2, 0.3, 0.8],
  [-4.8, -4.1, -3.1, -2.1, -1.4, -1.1, -1.2, -1.5, -2.0, -2.6, -3.0],
  [-4.8, -4.1, -3.1, -2.1, -1.2, -0.6, 0.0, 0.8, 1.8, 2.6, 3.0],
  [-4.8, -4.1, -3.1, -2.1, -1.3, -1.0, -0.9, -0.9, -0.8, -0.6, -0.5],
];
const RED_U4 = [
  [3.5, 6.0, 7.4, 6.6, 3.6, -0.6, -4.4, -7.2, -9.0, -10, -10.5],
  [3.5, 6.2, 8.4, 9.2, 8.6, 7.4, 6.4, 6.2, 6.6, 7.4, 8.0],
  [3.5, 5.8, 6.8, 5.6, 2.6, -0.6, -2.8, -3.4, -2.6, -1.2, -0.2],
  [3.5, 6.4, 9.0, 10.4, 10.6, 10.2, 9.8, 9.8, 10.2, 10.6, 10.8],
  [3.5, 6.0, 7.2, 6.4, 4.0, 1.2, -1.0, -2.0, -1.8, -1.0, -0.6],
  [3.5, 6.1, 7.8, 7.6, 5.6, 2.4, -1.0, -4.0, -6.4, -7.8, -8.4],
  [3.5, 6.2, 8.2, 8.6, 7.4, 5.4, 3.4, 2.0, 1.6, 2.0, 2.4],
  [3.5, 5.9, 7.0, 6.2, 3.8, 0.6, -2.4, -4.6, -5.6, -5.6, -5.2],
  [3.5, 6.3, 8.6, 9.6, 9.2, 7.8, 6.0, 4.4, 3.4, 3.0, 3.0],
  [3.5, 6.0, 7.4, 7.0, 5.0, 2.6, 0.6, -0.8, -1.4, -1.4, -1.2],
  [3.5, 6.1, 7.6, 7.2, 5.6, 3.8, 2.8, 3.0, 4.2, 5.8, 6.8],
  [3.5, 6.0, 7.2, 6.2, 3.4, -0.2, -3.6, -6.2, -7.6, -8.0, -7.8],
  [3.5, 6.2, 8.0, 8.0, 6.4, 4.2, 2.2, 0.8, -0.2, -0.8, -1.0],
  [3.5, 6.1, 7.6, 7.0, 5.0, 2.2, -0.4, -2.2, -3.0, -3.0, -2.8],
  [3.5, 6.2, 8.0, 8.4, 7.2, 5.2, 3.0, 1.0, -0.8, -2.2, -3.0],
  [3.5, 6.3, 8.8, 10.0, 10.0, 9.0, 7.6, 6.2, 5.0, 4.2, 3.8],
  [3.5, 6.0, 7.2, 6.6, 4.8, 2.6, 0.6, -1.2, -2.8, -4.2, -5.0],
  [3.5, 6.1, 7.8, 7.8, 6.8, 5.6, 4.8, 4.8, 5.6, 6.8, 7.6],
];
const BLUE_U4 = [
  [-4.8, -4.0, -2.8, -1.6, -0.6, 0.2, 1.2, 2.6, 4.2, 6.0, 7.4],
  [-4.8, -4.1, -3.1, -2.2, -1.6, -1.4, -1.4, -1.6, -2.0, -2.4, -2.6],
  [-4.8, -4.0, -2.9, -1.8, -0.9, -0.3, 0.2, 0.8, 1.4, 2.0, 2.4],
  [-4.8, -4.2, -3.4, -2.6, -2.2, -2.2, -2.6, -3.0, -3.4, -3.8, -4.0],
  [-4.8, -4.1, -3.0, -2.0, -1.2, -0.8, -0.6, -0.4, -0.2, 0.2, 0.4],
  [-4.8, -4.1, -3.2, -2.4, -1.8, -1.6, -1.8, -2.2, -2.8, -3.4, -3.8],
  [-4.8, -4.0, -2.9, -1.8, -1.0, -0.6, -0.5, -0.6, -0.8, -1.0, -1.2],
  [-4.8, -4.1, -3.1, -2.2, -1.4, -1.0, -0.8, -0.8, -1.0, -1.4, -1.8],
  [-4.8, -4.0, -2.8, -1.6, -0.6, 0.0, 0.4, 0.8, 1.2, 1.6, 1.8],
  [-4.8, -4.2, -3.3, -2.5, -2.0, -1.8, -1.9, -2.3, -2.9, -3.5, -4.3],
  [-4.8, -4.1, -3.0, -2.0, -1.3, -0.9, -0.7, -0.6, -0.6, -0.7, -0.9],
];

const PANELS = [
  { row: 0, col: 0, red: RED_A1, blue: BLUE_A1 },
  { row: 0, col: 1, red: RED_M1, blue: BLUE_M1 },
  { row: 0, col: 2, red: RED_U1, blue: BLUE_U1 },
  { row: 1, col: 0, red: RED_A2, blue: BLUE_A2 },
  { row: 1, col: 1, red: RED_M2, blue: BLUE_M2 },
  { row: 1, col: 2, red: RED_U2, blue: BLUE_U2 },
  { row: 2, col: 0, red: RED_A3, blue: BLUE_A3 },
  { row: 2, col: 1, red: RED_M3, blue: BLUE_M3 },
  { row: 2, col: 2, red: RED_U3, blue: BLUE_U3 },
  { row: 3, col: 0, red: RED_A4, blue: BLUE_A4 },
  { row: 3, col: 1, red: RED_M4, blue: BLUE_M4 },
  { row: 3, col: 2, red: RED_U4, blue: BLUE_U4 },
];

// ---------- layout ----------
const COL_LEFTS = [53, 455, 857];
const ROW_TOPS = [33, 192, 350, 508];
const PLOT_W = 345;
const PLOT_H = 114;
const PAD_L = 60;
const PAD_R = 14;
const PAD_T = 12;
const PAD_B = 40;
const TICK_FONT = { family: '"DejaVu Serif", serif', size: 17 };

const fmt = (v: number | string) => String(v).replace("-", "\u2212");

const framePlugin = {
  id: "frame",
  afterDatasetsDraw(chart: any) {
    const { ctx, chartArea: a } = chart;
    ctx.save();
    ctx.strokeStyle = "#000";
    ctx.lineWidth = 1.3;
    ctx.strokeRect(a.left, a.top, a.right - a.left, a.bottom - a.top);
    ctx.restore();
  },
};

function Panel({ row, col, red, blue }: { row: number; col: number; red: number[][]; blue: number[][] }) {
  const ref = useRef<HTMLCanvasElement>(null);
  useEffect(() => {
    if (!ref.current) return;
    const x0 = ROW_STARTS[row];
    const toPts = (ys: number[]) => ys.map((y, i) => ({ x: x0 + SAMPLE_OFFSETS[i], y }));
    const showX = row === 3 || col === 2;
    const showY = col !== 1;
    const datasets: any[] = [
      {
        data: X_GRID.map((x, i) => ({ x, y: TRUE_DOTTED[i] })),
        borderColor: "#000",
        borderWidth: 3,
        borderDash: [3, 5.5],
        borderCapStyle: "butt",
        order: 0,
      },
      {
        data: X_GRID.map((x, i) => ({ x, y: TRUE_SOLID[i] })),
        borderColor: "#000",
        borderWidth: 2.8,
        order: 1,
      },
      ...red.map((r) => ({
        data: toPts(r),
        borderColor: "rgba(255,0,0,0.22)",
        borderWidth: 2.1,
        order: 2,
      })),
      ...blue.map((b) => ({
        data: toPts(b),
        borderColor: "rgba(0,0,255,0.22)",
        borderWidth: 2.1,
        order: 3,
      })),
    ];
    const chart = new Chart(ref.current, {
      type: "line",
      data: { datasets },
      plugins: [framePlugin],
      options: {
        animation: false,
        responsive: false,
        devicePixelRatio: 1,
        events: [],
        layout: { padding: { top: PAD_T, right: PAD_R, left: 0, bottom: 0 } },
        elements: {
          point: { radius: 0, hoverRadius: 0 },
          line: { cubicInterpolationMode: "monotone", fill: false },
        },
        plugins: { legend: { display: false }, tooltip: { enabled: false }, title: { display: false } },
        scales: {
          x: {
            type: "linear",
            min: 0,
            max: 60,
            afterBuildTicks: (s: any) => {
              s.ticks = X_TICKS.map((v) => ({ value: v }));
            },
            afterFit: (s: any) => {
              s.height = PAD_B;
            },
            grid: { drawOnChartArea: false, drawTicks: true, tickLength: 7, tickWidth: 1.3, tickColor: "#000" },
            border: { display: true, color: "#000", width: 1.3 },
            ticks: {
              display: showX,
              color: "#000",
              font: TICK_FONT,
              padding: 3,
              maxRotation: 0,
              autoSkip: false,
              callback: (v: any) => fmt(v),
            },
          },
          y: {
            type: "linear",
            min: -10,
            max: 10,
            afterBuildTicks: (s: any) => {
              s.ticks = Y_TICKS.map((v) => ({ value: v }));
            },
            afterFit: (s: any) => {
              s.width = PAD_L;
            },
            grid: { drawOnChartArea: false, drawTicks: true, tickLength: 7, tickWidth: 1.3, tickColor: "#000" },
            border: { display: true, color: "#000", width: 1.3 },
            ticks: {
              display: showY,
              color: "#000",
              font: TICK_FONT,
              padding: 3,
              autoSkip: false,
              callback: (v: any) => fmt(v),
            },
          },
        },
      } as any,
    });
    return () => chart.destroy();
  }, [row, col, red, blue]);
  return (
    <canvas
      ref={ref}
      width={PAD_L + PLOT_W + PAD_R}
      height={PAD_T + PLOT_H + PAD_B}
      style={{ position: "absolute", left: COL_LEFTS[col] - PAD_L, top: ROW_TOPS[row] - PAD_T }}
    />
  );
}

export default function App() {
  return (
    <div
      style={{
        position: "fixed",
        left: 0,
        top: 0,
        width: 1222,
        height: 658,
        background: "#fff",
        overflow: "hidden",
      }}
    >
      {TITLES.map((t, c) => (
        <div
          key={t}
          style={{
            position: "absolute",
            left: COL_LEFTS[c],
            top: 6,
            width: PLOT_W,
            textAlign: "center",
            fontFamily: '"Liberation Serif", serif',
            fontSize: 19,
            lineHeight: "22px",
            color: "#000",
            whiteSpace: "nowrap",
            transform: "scaleX(1.25)",
            transformOrigin: "50% 50%",
          }}
        >
          {t}
        </div>
      ))}
      {PANELS.map((p) => (
        <Panel key={`${p.row}-${p.col}`} row={p.row} col={p.col} red={p.red} blue={p.blue} />
      ))}
    </div>
  );
}
